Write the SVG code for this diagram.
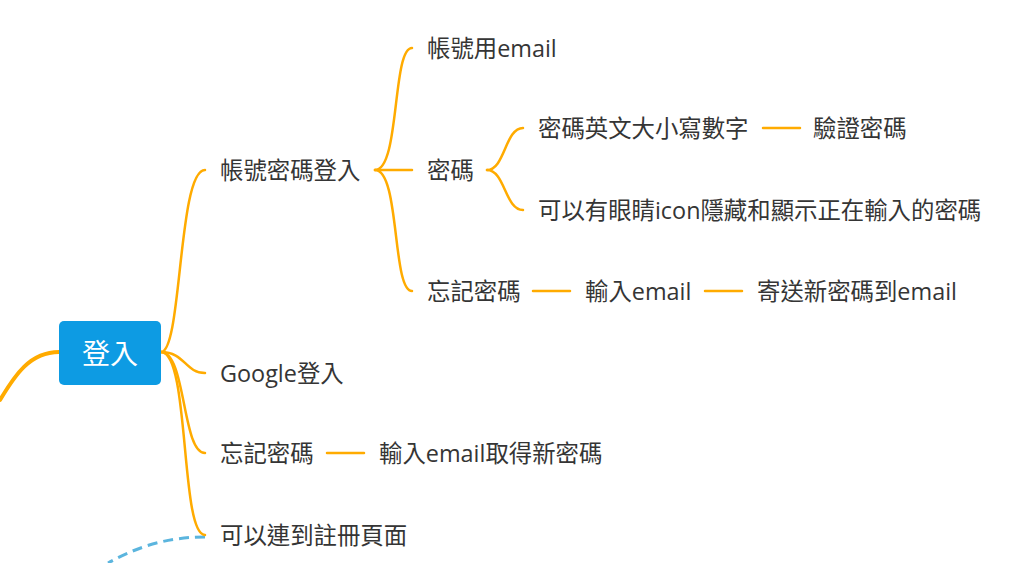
<svg xmlns="http://www.w3.org/2000/svg" width="1024" height="563" viewBox="0 0 1024 563">
<style>
.t{font-family:"Open Sans","Noto Sans CJK TC",sans-serif;font-size:23.4px;fill:#353535;dominant-baseline:central}
.c{fill:none;stroke:#ffab00;stroke-width:2.5;stroke-linecap:round}
</style>
<rect width="1024" height="563" fill="#fff"/>
<g id="connectors">
<path class="c" style="stroke-width:4" d="M59 352 C30 352 15 375 0 400"/>
<path d="M205 537 C165 537 135 548 108 563" fill="none" stroke="#5bb5de" stroke-width="3" stroke-dasharray="10 6"/>
<path class="c" d="M161 352 C182 352 178 170 205 170"/>
<path class="c" d="M161 352 C185 352 185 373 205 373"/>
<path class="c" d="M161 352 C186 352 182 453 205 453"/>
<path class="c" d="M161 352 C190 352 180 535 205 535"/>
<path class="c" d="M375 170 C400 170 392 48 412 48"/>
<path class="c" d="M375 170 L412 170"/>
<path class="c" d="M375 170 C400 170 392 291 412 291"/>
<path class="c" d="M487 170 C505 170 505 128 523 128"/>
<path class="c" d="M487 170 C505 170 505 210 523 210"/>
<path class="c" d="M763 128 L800 128"/>
<path class="c" d="M533 291 L570 291"/>
<path class="c" d="M705 291 L742 291"/>
<path class="c" d="M327 453 L364 453"/>
</g>
<g id="root">
<rect x="59" y="321" width="102" height="64" rx="5" fill="#0d9be3"/>
<text x="110" y="353" text-anchor="middle" class="t" style="fill:#fff;font-size:28px">登入</text>
</g>
<g id="n1"><text class="t" x="220" y="170">帳號密碼登入</text></g>
<g id="n2"><text class="t" x="427" y="48">帳號用email</text></g>
<g id="n3"><text class="t" x="427" y="170">密碼</text></g>
<g id="n4"><text class="t" x="538" y="128">密碼英文大小寫數字</text></g>
<g id="n5"><text class="t" x="813" y="128">驗證密碼</text></g>
<g id="n6"><text class="t" x="538" y="210">可以有眼睛icon隱藏和顯示正在輸入的密碼</text></g>
<g id="n7"><text class="t" x="427" y="291">忘記密碼</text></g>
<g id="n8"><text class="t" x="585" y="291">輸入email</text></g>
<g id="n9"><text class="t" x="757" y="291">寄送新密碼到email</text></g>
<g id="n10"><text class="t" x="220" y="373">Google登入</text></g>
<g id="n11"><text class="t" x="220" y="453">忘記密碼</text></g>
<g id="n12"><text class="t" x="379" y="453">輸入email取得新密碼</text></g>
<g id="n13"><text class="t" x="220" y="535">可以連到註冊頁面</text></g>
</svg>
